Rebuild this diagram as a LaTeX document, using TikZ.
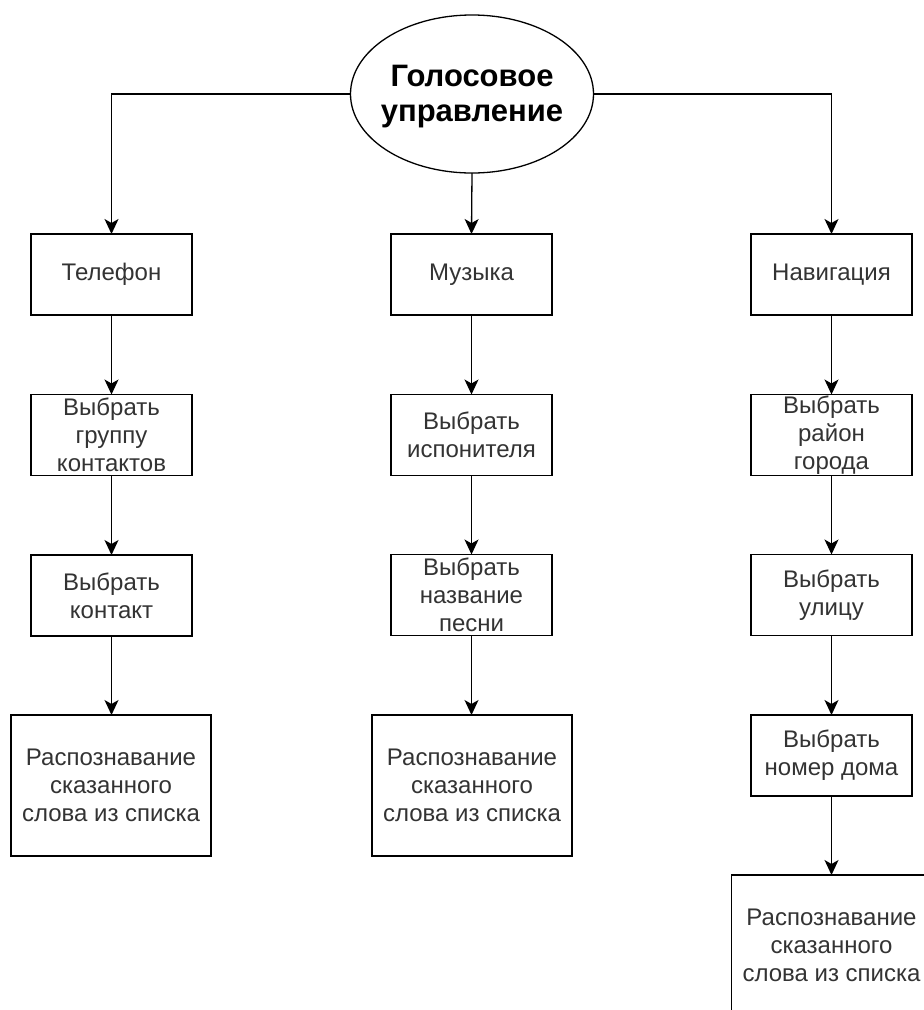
\documentclass[tikz,border=0pt]{standalone}
\usepackage{fontspec}
\setmainfont{Liberation Sans}
\usetikzlibrary{arrows.meta,shapes.geometric}
\begin{document}
\begin{tikzpicture}[x=1pt,y=-1pt,
  box/.style={draw=black,line width=1.3pt,minimum width=161pt,minimum height=81pt,inner sep=0pt,outer sep=0pt,align=center,text=black!80,font=\fontsize{24}{28}\selectfont},
  bigbox/.style={box,minimum width=200pt,minimum height=141pt},
  conn/.style={draw=black,line width=1.3pt,-{Stealth[length=15pt,width=14pt,inset=4pt]}}
]
\useasboundingbox (0,0) rectangle (924,1010);
\clip (0,0) rectangle (924,1010);
\fill[white] (0,0) rectangle (924,1010);
\node[ellipse,draw=black,line width=1.3pt,minimum width=243pt,minimum height=158pt,inner sep=0pt,outer sep=0pt,
  label={[align=center,yshift=-3pt,font=\fontsize{31}{35}\selectfont\bfseries]center:Голосовое\\управление}] (el) at (472,94) {};
% left column
\node[box] (tel) at (111.5,274.5) {Телефон};
\node[box] (t1) at (111.5,435) {Выбрать\\группу\\контактов};
\node[box] (t2) at (111.5,595.5) {Выбрать\\контакт};
\node[bigbox] (t3) at (111,785.5) {Распознавание\\сказанного\\слова из списка};
% middle column
\node[box] (mus) at (471.5,274.5) {Музыка};
\node[box] (m1) at (471.5,435) {Выбрать\\испонителя};
\node[box] (m2) at (471.5,595) {Выбрать\\название\\песни};
\node[bigbox] (m3) at (472,785.5) {Распознавание\\сказанного\\слова из списка};
% right column
\node[box] (nav) at (831.5,274.5) {Навигация};
\node[box] (n1) at (831.5,435) {Выбрать\\район\\города};
\node[box] (n2) at (831.5,595) {Выбрать\\улицу};
\node[box] (n3) at (831.5,755.5) {Выбрать\\номер дома};
\node[bigbox] (n4) at (831.5,945.5) {Распознавание\\сказанного\\слова из списка};
% connectors
\draw[conn] (el.west) -| (tel.north);
\draw[conn] (el.east) -| (nav.north);
\draw[conn] (el.south) -- (mus.north);
\draw[conn] (tel) -- (t1);
\draw[conn] (t1) -- (t2);
\draw[conn] (t2) -- (t3.north -| t2.south);
\draw[conn] (mus) -- (m1);
\draw[conn] (m1) -- (m2);
\draw[conn] (m2) -- (m3.north -| m2.south);
\draw[conn] (nav) -- (n1);
\draw[conn] (n1) -- (n2);
\draw[conn] (n2) -- (n3);
\draw[conn] (n3) -- (n4);
\end{tikzpicture}
\end{document}
